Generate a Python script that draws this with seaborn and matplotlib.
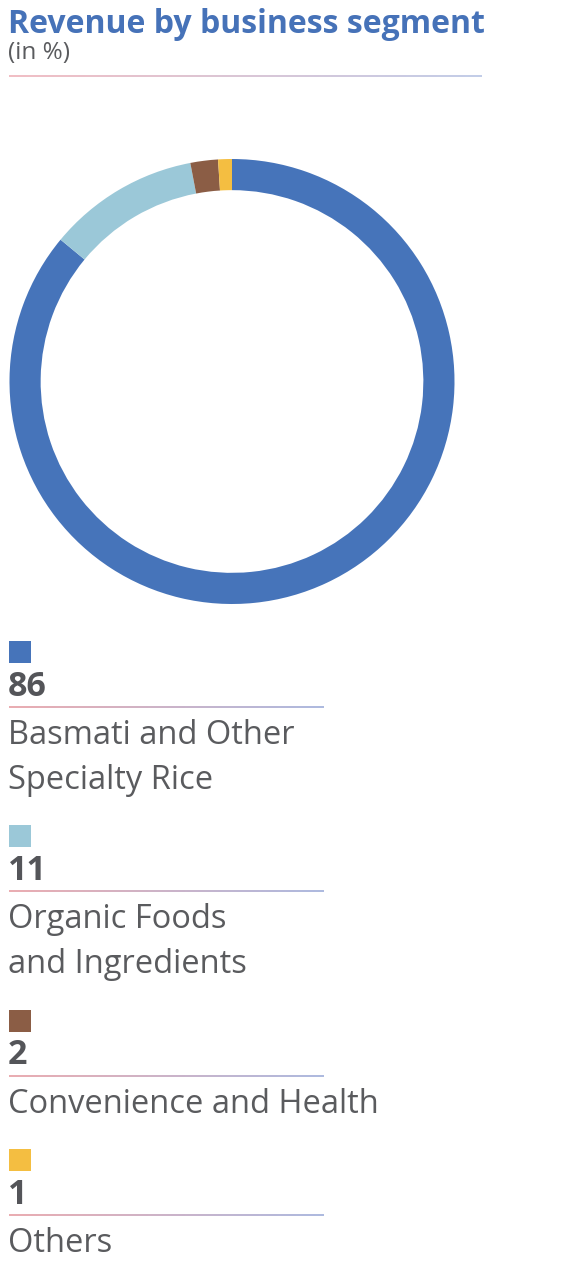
import numpy as np
import matplotlib
matplotlib.use("Agg")
import matplotlib.pyplot as plt
import seaborn as sns
from matplotlib.collections import LineCollection
from matplotlib.patches import Rectangle

# ---- data ----
segments = ["Basmati and Other\nSpecialty Rice", "Organic Foods\nand Ingredients",
            "Convenience and Health", "Others"]
values = [86, 11, 2, 1]
colors = ["#4674BA", "#9BC8D8", "#8B5D45", "#F4BE41"]
title = "Revenue by business segment"
subtitle = "(in %)"

sns.set_theme(style="white")
plt.rcParams["font.family"] = ["Open Sans", "DejaVu Sans"]

W, H = 578, 1272
fig = plt.figure(figsize=(W / 100, H / 100), dpi=100)
fig.patch.set_facecolor("white")

# donut axes (pixel box: left 10, right 454, top 159, bottom 604)
cx, cy, R = 232, 381.5, 222.5
ax = fig.add_axes([(cx - R) / W, 1 - (cy + R) / H, 2 * R / W, 2 * R / H])
ax.pie(values, colors=colors, startangle=90, counterclock=False, radius=1,
       wedgeprops=dict(width=0.14, edgecolor="none", linewidth=0))
ax.set_xlim(-1, 1)
ax.set_ylim(-1, 1)
ax.set_aspect("auto")
ax.axis("off")

# overlay axes in pixel coordinates
ov = fig.add_axes([0, 0, 1, 1], zorder=5)
ov.set_xlim(0, W)
ov.set_ylim(H, 0)
ov.axis("off")
ov.patch.set_alpha(0)

TEXT = "#5A5B5E"


def grad_line(y, x0, x1, c0, c1, lw=1.2, alpha=1.0):
    n = 200
    xs = np.linspace(x0, x1, n + 1)
    segs = [[(xs[i], y), (xs[i + 1], y)] for i in range(n)]
    a = np.array(matplotlib.colors.to_rgb(c0))
    b = np.array(matplotlib.colors.to_rgb(c1))
    t = np.linspace(0, 1, n)[:, None]
    cols = a * (1 - t) + b * t
    lc = LineCollection(segs, colors=cols, linewidths=lw, alpha=alpha)
    ov.add_collection(lc)


ov.text(8, 33, title, fontsize=23, fontweight="bold", color="#4672B8",
        va="baseline", ha="left")
ov.text(8, 59, subtitle, fontsize=17.5, color=TEXT, va="baseline", ha="left")
grad_line(75.5, 9, 482, "#F0B8BE", "#BCC8E6", lw=1.3)

# legend blocks
square_tops = [641, 825, 1010, 1149]
for i, (lab, val, col) in enumerate(zip(segments, values, colors)):
    top = square_tops[i]
    ov.add_patch(Rectangle((9, top), 22, 22, facecolor=col, edgecolor="none"))
    ov.text(7.5, top + 54.5, str(val), fontsize=24.5, fontweight="bold", color="#545559",
            va="baseline", ha="left")
    grad_line(top + 66, 9, 324, "#E4949A", "#95A5D6", lw=1.1)
    for j, line in enumerate(lab.split("\n")):
        ov.text(8, top + 103 + 45 * j, line, fontsize=23.5, color=TEXT,
                va="baseline", ha="left")

fig.savefig("out.png", dpi=100, facecolor="white")
